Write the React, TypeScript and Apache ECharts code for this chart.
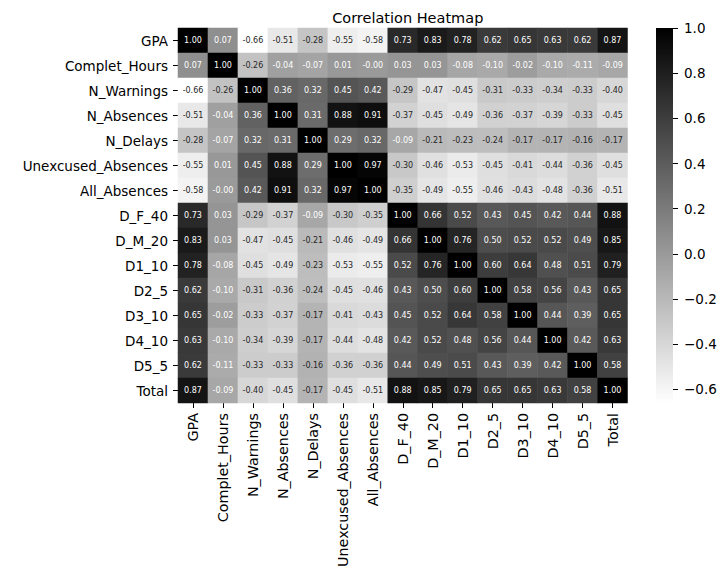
import React, { useEffect, useRef } from "react";
import * as echarts from "echarts";

const labels: string[] = [
  "GPA", "Complet_Hours", "N_Warnings", "N_Absences", "N_Delays",
  "Unexcused_Absences", "All_Absences", "D_F_40", "D_M_20", "D1_10",
  "D2_5", "D3_10", "D4_10", "D5_5", "Total",
];

const rowGPA = [1.0, 0.07, -0.66, -0.51, -0.28, -0.55, -0.58, 0.73, 0.83, 0.78, 0.62, 0.65, 0.63, 0.62, 0.87];
const rowComplet = [0.07, 1.0, -0.26, -0.04, -0.07, 0.01, -0.004, 0.03, 0.03, -0.08, -0.1, -0.02, -0.1, -0.11, -0.09];
const rowWarnings = [-0.66, -0.26, 1.0, 0.36, 0.32, 0.45, 0.42, -0.29, -0.47, -0.45, -0.31, -0.33, -0.34, -0.33, -0.4];
const rowAbsences = [-0.51, -0.04, 0.36, 1.0, 0.31, 0.88, 0.91, -0.37, -0.45, -0.49, -0.36, -0.37, -0.39, -0.33, -0.45];
const rowDelays = [-0.28, -0.07, 0.32, 0.31, 1.0, 0.29, 0.32, -0.09, -0.21, -0.23, -0.24, -0.17, -0.17, -0.16, -0.17];
const rowUnexcused = [-0.55, 0.01, 0.45, 0.88, 0.29, 1.0, 0.97, -0.3, -0.46, -0.53, -0.45, -0.41, -0.44, -0.36, -0.45];
const rowAllAbs = [-0.58, -0.004, 0.42, 0.91, 0.32, 0.97, 1.0, -0.35, -0.49, -0.55, -0.46, -0.43, -0.48, -0.36, -0.51];
const rowDF40 = [0.73, 0.03, -0.29, -0.37, -0.09, -0.3, -0.35, 1.0, 0.66, 0.52, 0.43, 0.45, 0.42, 0.44, 0.88];
const rowDM20 = [0.83, 0.03, -0.47, -0.45, -0.21, -0.46, -0.49, 0.66, 1.0, 0.76, 0.5, 0.52, 0.52, 0.49, 0.85];
const rowD1 = [0.78, -0.08, -0.45, -0.49, -0.23, -0.53, -0.55, 0.52, 0.76, 1.0, 0.6, 0.64, 0.48, 0.51, 0.79];
const rowD2 = [0.62, -0.1, -0.31, -0.36, -0.24, -0.45, -0.46, 0.43, 0.5, 0.6, 1.0, 0.58, 0.56, 0.43, 0.65];
const rowD3 = [0.65, -0.02, -0.33, -0.37, -0.17, -0.41, -0.43, 0.45, 0.52, 0.64, 0.58, 1.0, 0.44, 0.39, 0.65];
const rowD4 = [0.63, -0.1, -0.34, -0.39, -0.17, -0.44, -0.48, 0.42, 0.52, 0.48, 0.56, 0.44, 1.0, 0.42, 0.63];
const rowD5 = [0.62, -0.11, -0.33, -0.33, -0.16, -0.36, -0.36, 0.44, 0.49, 0.51, 0.43, 0.39, 0.42, 1.0, 0.58];
const rowTotal = [0.87, -0.09, -0.4, -0.45, -0.17, -0.45, -0.51, 0.88, 0.85, 0.79, 0.65, 0.65, 0.63, 0.58, 1.0];

const matrix: number[][] = [
  rowGPA, rowComplet, rowWarnings, rowAbsences, rowDelays, rowUnexcused, rowAllAbs,
  rowDF40, rowDM20, rowD1, rowD2, rowD3, rowD4, rowD5, rowTotal,
];

// colour scale limits and colour-bar ticks
const vMin = -0.66;
const vMax = 1.0;
const cbarTickMin = -0.6;
const cbarTickStep = 0.2;

const FONT = "DejaVu Sans";

function textColorFor(v: number): string {
  const t = Math.min(1, Math.max(0, (v - vMin) / (vMax - vMin)));
  const g = 1 - t;
  const lin = g <= 0.03928 ? g / 12.92 : Math.pow((g + 0.055) / 1.055, 2.4);
  return lin > 0.408 ? "#262626" : "#ffffff";
}

export default function App() {
  const ref = useRef<HTMLDivElement>(null);

  useEffect(() => {
    if (!ref.current) return;
    const chart = echarts.init(ref.current, undefined, { renderer: "svg" });

    const data: any[] = [];
    matrix.forEach((row, yi) => {
      row.forEach((v, xi) => {
        data.push({ value: [xi, yi, v], label: { color: textColorFor(v) } });
      });
    });

    const gridL = 178, gridT = 28, gridW = 449.5, gridH = 375;
    const cbL = 656, cbW = 17, tickLen = 5;
    // the tick strip covers only the part of the bar from cbarTickMin to vMax
    const cbAxisH = (gridH * (vMax - cbarTickMin)) / (vMax - vMin);

    chart.setOption({
      animation: false,
      backgroundColor: "#ffffff",
      textStyle: { fontFamily: FONT },
      title: {
        text: "Correlation Heatmap",
        left: gridL + gridW / 2,
        textAlign: "center",
        top: 5,
        textStyle: { fontFamily: FONT, fontSize: 14.5, fontWeight: "normal", color: "#000" },
      },
      grid: [
        { left: gridL, top: gridT, width: gridW, height: gridH, containLabel: false, outerBoundsMode: "none" },
        { left: cbL + cbW, top: gridT, width: tickLen, height: cbAxisH, containLabel: false, outerBoundsMode: "none" },
      ],
      xAxis: [
        {
          type: "category",
          data: labels,
          gridIndex: 0,
          position: "bottom",
          axisLine: { show: false },
          axisTick: { show: true, alignWithLabel: true, length: 5, lineStyle: { color: "#000", width: 1 } },
          axisLabel: { rotate: 90, fontSize: 14.3, color: "#000", fontFamily: FONT, margin: 10, interval: 0 },
          splitLine: { show: false },
        },
        { type: "value", gridIndex: 1, show: false, min: 0, max: 1 },
      ],
      yAxis: [
        {
          type: "category",
          data: labels,
          gridIndex: 0,
          inverse: true,
          axisLine: { show: false },
          axisTick: { show: true, alignWithLabel: true, length: 5, lineStyle: { color: "#000", width: 1 } },
          axisLabel: { fontSize: 13.5, color: "#000", fontFamily: FONT, margin: 10, interval: 0 },
          splitLine: { show: false },
        },
        {
          type: "value",
          gridIndex: 1,
          position: "right",
          min: cbarTickMin,
          max: vMax,
          interval: cbarTickStep,
          axisLine: { show: false },
          axisTick: { show: false },
          splitLine: { show: true, lineStyle: { color: "#000", width: 1 } },
          axisLabel: {
            fontSize: 13.5,
            color: "#000",
            fontFamily: FONT,
            margin: 6,
            formatter: (v: number) => (v < -1e-9 ? "\u2212" : "") + Math.abs(v).toFixed(1),
          },
        },
      ],
      visualMap: {
        show: false,
        min: vMin,
        max: vMax,
        seriesIndex: 0,
        dimension: 2,
        inRange: { color: ["#ffffff", "#000000"] },
      },
      graphic: [
        {
          type: "rect",
          shape: { x: cbL, y: gridT, width: cbW, height: gridH },
          style: {
            fill: new echarts.graphic.LinearGradient(0, 0, 0, 1, [
              { offset: 0, color: "#000000" },
              { offset: 1, color: "#ffffff" },
            ]),
          },
          z: -1,
        },
      ],
      series: [
        {
          type: "heatmap",
          xAxisIndex: 0,
          yAxisIndex: 0,
          data,
          label: {
            show: true,
            fontSize: 8,
            fontFamily: FONT,
            formatter: (p: any) => (p.value[2] as number).toFixed(2),
          },
          itemStyle: { borderWidth: 0 },
          emphasis: { disabled: true },
        },
      ],
    });

    return () => chart.dispose();
  }, []);

  return (
    <div
      ref={ref}
      style={{ position: "absolute", left: 0, top: 0, width: 720, height: 569 }}
    />
  );
}
